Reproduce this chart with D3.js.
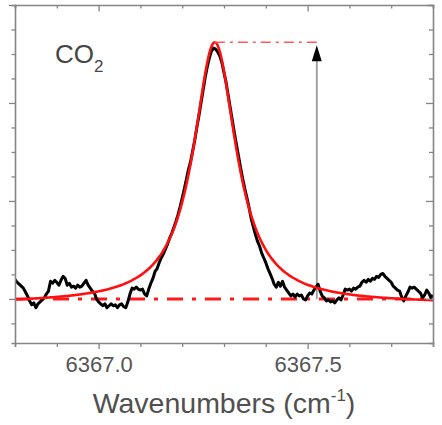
<!DOCTYPE html>
<html>
<head>
<meta charset="utf-8">
<script src="https://cdn.jsdelivr.net/npm/d3@7"></script>
<style>
  html, body { margin: 0; padding: 0; background: #fff; }
  svg { display: block; font-family: Arial, "Liberation Sans", sans-serif; }
</style>
</head>
<body>
<svg id="chart" width="442" height="425"></svg>
<script>
// Measured CO2 absorption line (wavenumber in cm^-1, absorbance in arbitrary units)
const wavenumber = [
  6366.800, 6366.805, 6366.810, 6366.815, 6366.820, 6366.825, 6366.830, 6366.835, 6366.840, 6366.845,
  6366.850, 6366.855, 6366.860, 6366.865, 6366.870, 6366.875, 6366.880, 6366.885, 6366.890, 6366.895,
  6366.900, 6366.905, 6366.910, 6366.915, 6366.920, 6366.925, 6366.930, 6366.935, 6366.940, 6366.945,
  6366.950, 6366.955, 6366.960, 6366.965, 6366.970, 6366.975, 6366.980, 6366.985, 6366.990, 6366.995,
  6367.000, 6367.005, 6367.010, 6367.015, 6367.020, 6367.025, 6367.030, 6367.035, 6367.040, 6367.045,
  6367.050, 6367.055, 6367.060, 6367.065, 6367.070, 6367.075, 6367.080, 6367.085, 6367.090, 6367.095,
  6367.100, 6367.105, 6367.110, 6367.115, 6367.120, 6367.125, 6367.130, 6367.135, 6367.140, 6367.145,
  6367.150, 6367.155, 6367.160, 6367.165, 6367.170, 6367.175, 6367.180, 6367.185, 6367.190, 6367.195,
  6367.200, 6367.205, 6367.210, 6367.215, 6367.220, 6367.225, 6367.230, 6367.235, 6367.240, 6367.245,
  6367.250, 6367.255, 6367.260, 6367.265, 6367.270, 6367.275, 6367.280, 6367.285, 6367.290, 6367.295,
  6367.300, 6367.305, 6367.310, 6367.315, 6367.320, 6367.325, 6367.330, 6367.335, 6367.340, 6367.345,
  6367.350, 6367.355, 6367.360, 6367.365, 6367.370, 6367.375, 6367.380, 6367.385, 6367.390, 6367.395,
  6367.400, 6367.405, 6367.410, 6367.415, 6367.420, 6367.425, 6367.430, 6367.435, 6367.440, 6367.445,
  6367.450, 6367.455, 6367.460, 6367.465, 6367.470, 6367.475, 6367.480, 6367.485, 6367.490, 6367.495,
  6367.500, 6367.505, 6367.510, 6367.515, 6367.520, 6367.525, 6367.530, 6367.535, 6367.540, 6367.545,
  6367.550, 6367.555, 6367.560, 6367.565, 6367.570, 6367.575, 6367.580, 6367.585, 6367.590, 6367.595,
  6367.600, 6367.605, 6367.610, 6367.615, 6367.620, 6367.625, 6367.630, 6367.635, 6367.640, 6367.645,
  6367.650, 6367.655, 6367.660, 6367.665, 6367.670, 6367.675, 6367.680, 6367.685, 6367.690, 6367.695,
  6367.700, 6367.705, 6367.710, 6367.715, 6367.720, 6367.725, 6367.730, 6367.735, 6367.740, 6367.745,
  6367.750, 6367.755, 6367.760, 6367.765, 6367.770, 6367.775, 6367.780, 6367.785, 6367.790, 6367.795,
  6367.800
];

const absorbance = [
  0.20, 0.17, 0.15, 0.13, 0.11, 0.07, 0.03, -0.02, -0.06, -0.04,
  -0.09, -0.05, -0.03, -0.01, 0.01, 0.05, 0.08, 0.18, 0.16, 0.19,
  0.17, 0.14, 0.19, 0.23, 0.21, 0.14, 0.16, 0.12, 0.13, 0.11,
  0.14, 0.12, 0.13, 0.16, 0.19, 0.14, 0.11, 0.08, 0.06, 0.00,
  -0.03, -0.05, -0.07, -0.05, -0.09, -0.07, -0.05, -0.07, -0.06, -0.09,
  -0.06, -0.05, -0.08, -0.09, -0.03, 0.05, 0.11, 0.10, 0.12, 0.10,
  0.09, 0.10, 0.05, 0.03, 0.10, 0.16, 0.21, 0.28, 0.31, 0.37,
  0.42, 0.46, 0.51, 0.56, 0.62, 0.67, 0.73, 0.79, 0.86, 0.94,
  1.03, 1.12, 1.22, 1.32, 1.40, 1.51, 1.62, 1.75, 1.87, 2.00,
  2.13, 2.26, 2.37, 2.46, 2.53, 2.56, 2.55, 2.52, 2.48, 2.41,
  2.31, 2.21, 2.08, 1.95, 1.82, 1.69, 1.57, 1.45, 1.33, 1.22,
  1.12, 1.03, 0.93, 0.82, 0.74, 0.66, 0.59, 0.54, 0.47, 0.42,
  0.37, 0.31, 0.26, 0.21, 0.15, 0.12, 0.17, 0.13, 0.18, 0.12,
  0.09, 0.06, 0.03, 0.05, 0.02, 0.05, 0.03, 0.04, 0.00, -0.01,
  0.03, 0.06, 0.05, 0.09, 0.12, 0.15, 0.08, 0.03, 0.01, -0.02,
  -0.01, -0.03, -0.02, -0.04, -0.01, 0.01, -0.01, 0.04, 0.10, 0.09,
  0.10, 0.08, 0.11, 0.10, 0.12, 0.13, 0.17, 0.19, 0.17, 0.20,
  0.18, 0.21, 0.20, 0.23, 0.22, 0.25, 0.26, 0.23, 0.21, 0.19,
  0.17, 0.13, 0.11, 0.09, 0.08, 0.02, -0.02, 0.03, 0.07, 0.12,
  0.11, 0.12, 0.10, 0.08, 0.06, 0.01, 0.04, 0.09, 0.06, 0.01,
  0.04
];

// Lorentzian fit of the line
const fitCenter = 6367.278;     // cm^-1
const fitHWHM = 0.0622;         // cm^-1
const fitAmplitude = 2.67;
const fitOffset = -0.05;

// Position of the peak-height arrow
const arrowWavenumber = 6367.522;

// Axis ranges and ticks
const xDomain = [6366.8, 6367.8];
const yDomain = [-0.45, 3.0];
const xMajorTicks = [6367.0, 6367.5];
const xMinorTicks = [6366.8, 6366.9, 6367.1, 6367.2, 6367.3, 6367.4, 6367.6, 6367.7, 6367.8];
const yMajorTicks = [0, 1, 2, 3];
const yMinorTicks = [-0.25, 0.25, 0.5, 0.75, 1.25, 1.5, 1.75, 2.25, 2.5, 2.75];
const xLabel = "Wavenumbers (cm";
const speciesLabel = "CO";

// ---------------------------------------------------------------
const W = 442, H = 425;
const margin = { left: 15, top: 5, right: 9, bottom: 82 };
const pw = W - margin.left - margin.right;
const ph = H - margin.top - margin.bottom;

const svg = d3.select("#chart");
const g = svg.append("g").attr("transform", `translate(${margin.left},${margin.top})`);

const x = d3.scaleLinear().domain(xDomain).range([0, pw]);
const y = d3.scaleLinear().domain(yDomain).range([ph, 0]);

g.append("clipPath").attr("id", "plotClip")
  .append("rect").attr("width", pw).attr("height", ph);

const plot = g.append("g").attr("clip-path", "url(#plotClip)");

const lorentz = w => fitAmplitude / (1 + Math.pow((w - fitCenter) / fitHWHM, 2)) + fitOffset;
const peakValue = fitAmplitude + fitOffset;

// baseline (dash-dot)
plot.append("line")
  .attr("x1", x(xDomain[0])).attr("x2", x(xDomain[1]))
  .attr("y1", y(0)).attr("y2", y(0))
  .attr("stroke", "#ff1a1a").attr("stroke-width", 3)
  .attr("stroke-dasharray", "16,9,4,9");

// arrow showing peak height
const ax = x(arrowWavenumber);
plot.append("line")
  .attr("x1", ax).attr("x2", ax)
  .attr("y1", y(0)).attr("y2", y(peakValue) + 14)
  .attr("stroke", "#9a9a9a").attr("stroke-width", 1.8);

// measured spectrum
const pts = wavenumber.map((w, i) => [w, absorbance[i]]);
plot.append("path")
  .datum(pts)
  .attr("fill", "none")
  .attr("stroke", "#000")
  .attr("stroke-width", 3)
  .attr("stroke-linejoin", "round")
  .attr("d", d3.line().x(d => x(d[0])).y(d => y(d[1])));

// fitted profile
const fitPts = wavenumber.concat([fitCenter]).sort((a, b) => a - b).map(w => [w, lorentz(w)]);
plot.append("path")
  .datum(fitPts)
  .attr("fill", "none")
  .attr("stroke", "#ff1010")
  .attr("stroke-width", 2.6)
  .attr("stroke-linejoin", "round")
  .attr("d", d3.line().x(d => x(d[0])).y(d => y(d[1])).curve(d3.curveMonotoneX));

// peak level (dash-dot)
plot.append("line")
  .attr("x1", x(fitCenter)).attr("x2", ax)
  .attr("y1", y(peakValue)).attr("y2", y(peakValue))
  .attr("stroke", "#ff5a5a").attr("stroke-width", 1.5)
  .attr("stroke-dasharray", "10,5,3,5");

// arrow head
const tipY = y(peakValue) + 3;
plot.append("path")
  .attr("d", `M${ax},${tipY} L${ax - 5},${tipY + 16} L${ax + 5},${tipY + 16} Z`)
  .attr("fill", "#000");

// ---------------------------------------------------------------
// Axes (frame with ticks on all four sides)
const axisColor = "#858585";
function styleAxis(sel) {
  sel.selectAll("path.domain").attr("stroke", axisColor).attr("stroke-width", 1.6);
  sel.selectAll(".tick line").attr("stroke", axisColor).attr("stroke-width", 1.3);
}

// bottom
g.append("g").attr("transform", `translate(0,${ph})`)
  .call(d3.axisBottom(x).tickValues(xMinorTicks).tickSize(4).tickFormat(""))
  .call(styleAxis);
const bottomMajor = g.append("g").attr("transform", `translate(0,${ph})`)
  .call(d3.axisBottom(x).tickValues(xMajorTicks).tickSize(6).tickFormat(d3.format(".1f")))
  .call(styleAxis);
bottomMajor.selectAll("path.domain").remove();
bottomMajor.selectAll(".tick text")
  .attr("y", 28.5).attr("dy", null)
  .attr("fill", "#555").attr("font-size", "22px")
  .attr("font-family", "Arial, 'Liberation Sans', sans-serif");

// top (ticks inward)
g.append("g")
  .call(d3.axisBottom(x).tickValues(xMinorTicks).tickSize(3.5).tickFormat(""))
  .call(styleAxis);
g.append("g")
  .call(d3.axisBottom(x).tickValues(xMajorTicks).tickSize(6.5).tickFormat(""))
  .call(styleAxis)
  .selectAll("path.domain").remove();

// left (ticks outward)
g.append("g")
  .call(d3.axisLeft(y).tickValues(yMinorTicks).tickSize(3.5).tickFormat(""))
  .call(styleAxis);
g.append("g")
  .call(d3.axisLeft(y).tickValues(yMajorTicks).tickSize(6).tickFormat(""))
  .call(styleAxis)
  .selectAll("path.domain").remove();

// right (ticks inward)
g.append("g").attr("transform", `translate(${pw},0)`)
  .call(d3.axisLeft(y).tickValues(yMinorTicks).tickSize(4).tickFormat(""))
  .call(styleAxis);
g.append("g").attr("transform", `translate(${pw},0)`)
  .call(d3.axisLeft(y).tickValues(yMajorTicks).tickSize(7).tickFormat(""))
  .call(styleAxis)
  .selectAll("path.domain").remove();

// ---------------------------------------------------------------
// Axis title
const title = svg.append("text")
  .attr("x", 224)
  .attr("y", 413)
  .attr("text-anchor", "middle")
  .attr("fill", "#505050")
  .attr("font-size", "28.5px");
title.append("tspan").text(xLabel);
title.append("tspan").attr("font-size", "17px").attr("dy", -12).text("-1");
title.append("tspan").attr("dy", 12).text(")");

// Species label
const species = svg.append("text")
  .attr("x", 55).attr("y", 63)
  .attr("fill", "#454545")
  .attr("font-size", "26px");
species.append("tspan").text(speciesLabel);
species.append("tspan").attr("font-size", "17px").attr("dy", 9).text("2");
</script>
</body>
</html>
